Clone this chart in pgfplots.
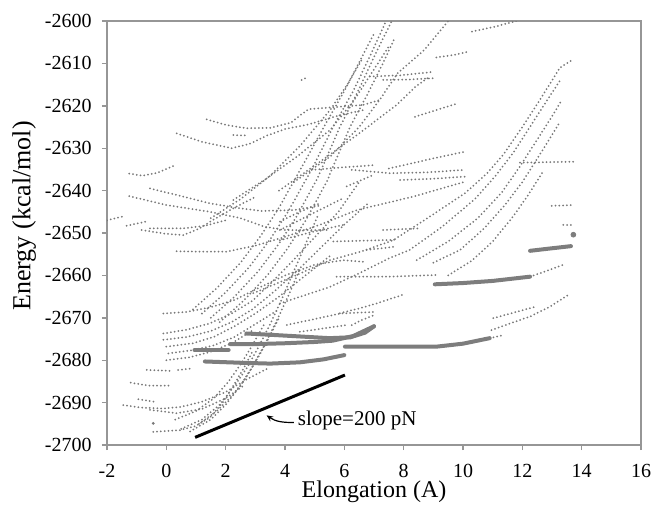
\documentclass[border=0pt]{standalone}
\usepackage{fontspec}
\setmainfont{Liberation Serif}
\usepackage{pgfplots}
\pgfplotsset{compat=1.18}
\usetikzlibrary{arrows.meta}
\definecolor{dotgray}{RGB}{120,120,120}
\definecolor{thickgray}{RGB}{125,125,125}
\definecolor{framegray}{RGB}{150,150,150}
\pgfplotsset{
  dots/.style={dotgray, line width=1.0pt, line cap=round, dash pattern=on 0pt off 1.9pt, mark=none},
  thk/.style={thickgray, line width=2.0pt, line cap=round, mark=none},
}
\begin{document}
\begin{tikzpicture}
\begin{axis}[
  width=267pt, height=212pt, scale only axis,
  xmin=-2, xmax=16, ymin=-2700, ymax=-2600,
  xtick={-2,0,2,4,6,8,10,12,14,16},
  xticklabels={-2,0,2,4,6,8,10,12,14,16},
  ytick={-2700,-2690,-2680,-2670,-2660,-2650,-2640,-2630,-2620,-2610,-2600},
  yticklabels={-2700,-2690,-2680,-2670,-2660,-2650,-2640,-2630,-2620,-2610,-2600},
  axis line style={framegray, line width=0.7pt},
  tick style={framegray, line width=0.7pt},
  tick align=outside, tick pos=left, major tick length=2.5pt,
  ticklabel style={font=\fontsize{10}{12}\selectfont, text=black},
  yticklabel style={xshift=-1.7pt},
  xticklabel style={yshift=-3.6pt},
  xlabel={Elongation (A)},
  ylabel={Energy (kcal/mol)},
  xlabel style={font=\fontsize{12}{14}\selectfont, at={(axis description cs:0.5,-0.111)}, anchor=center},
  ylabel style={font=\fontsize{13}{15}\selectfont, at={(axis description cs:-0.155,0.54)}, anchor=center, rotate=0},
  clip=true,
]
% ---------- dotted curves: upper left ----------
\addplot[dots] coordinates {(-2,-2647) (-1.4,-2646)};
\addplot[dots] coordinates {(-1.25,-2636) (-0.8,-2636.5) (-0.3,-2635.8) (0.3,-2634)};
\addplot[dots] coordinates {(-1.25,-2641.3) (0,-2643.4) (1.47,-2645) (2.5,-2646.5) (3.3,-2648.5) (4,-2649.3) (5.5,-2649.3)};
\addplot[dots] coordinates {(-0.55,-2639.5) (0.5,-2641.3) (1.47,-2643) (2.3,-2644) (3.2,-2644.8) (4.3,-2644.6) (5.2,-2643.5)};
\addplot[dots] coordinates {(-1.34,-2648.3) (-0.61,-2647.2)};
\addplot[dots] coordinates {(-0.83,-2649.3) (0,-2650.2) (0.57,-2650.5) (1.1,-2649) (1.58,-2646.9) (2.3,-2644) (3,-2641.5)};
\addplot[dots] coordinates {(-0.55,-2648.9) (0.57,-2648.9) (1.3,-2648.3) (2.0,-2647)};
\addplot[dots] coordinates {(0.35,-2654.3) (1.2,-2654.4) (2.03,-2654.4) (3,-2653) (4,-2650.9) (5.2,-2648) (6.42,-2644.6) (8.33,-2641.4) (10.07,-2637.9)};
\addplot[dots] coordinates {(1.36,-2623.2) (2.0,-2624.5) (2.7,-2625.3) (3.5,-2625.2) (4.2,-2624) (4.5,-2622.3) (4.8,-2620.8) (5.5,-2620.4) (6.64,-2619.8) (7.2,-2618.6)};
\addplot[dots] coordinates {(0.35,-2626.5) (1.2,-2628.5) (2.2,-2630) (2.8,-2629) (3.4,-2627) (4.0,-2625.5) (4.84,-2624.3) (5.7,-2622.5) (6.64,-2621)};
\addplot[dots] coordinates {(2.26,-2626.9) (2.71,-2627)};
\addplot[dots] coordinates {(4.56,-2613.9) (4.77,-2613.2)};
% ---------- steep bundle to the top ----------
\addplot[dots] coordinates {(0.9,-2668) (1.7,-2663) (2.5,-2657) (3.2,-2650.5) (3.8,-2644) (4.6,-2634) (5.35,-2624.5) (6.0,-2616.5) (6.63,-2608) (7.0,-2603)};
\addplot[dots] coordinates {(1.2,-2669) (2.0,-2664) (2.8,-2658) (3.5,-2651.5) (4.1,-2645) (4.9,-2635) (5.62,-2625) (6.3,-2616.5) (6.85,-2608.5) (7.31,-2601.5) (7.4,-2600)};
\addplot[dots] coordinates {(1.5,-2670) (2.3,-2665) (3.1,-2659) (3.8,-2652.5) (4.4,-2646) (5.1,-2637) (5.85,-2625) (6.5,-2616) (7.1,-2607) (7.6,-2600)};
\addplot[dots] coordinates {(1.8,-2671) (2.6,-2666) (3.4,-2660) (4.1,-2653.5) (4.7,-2647) (5.4,-2638) (6.19,-2625) (6.8,-2617) (7.3,-2610) (7.7,-2604)};
\addplot[dots] coordinates {(1.5,-2646.5) (2.5,-2642) (3.5,-2636.5) (4.5,-2629.5) (5.52,-2621) (6.1,-2615) (6.6,-2609)};
\addplot[dots] coordinates {(2.26,-2642.2) (3.3,-2637.5) (4.4,-2632) (5.52,-2625.7) (6.3,-2619) (6.9,-2612.5) (7.5,-2606)};
\addplot[dots] coordinates {(4.3,-2638) (5.52,-2632) (6.5,-2625) (7.2,-2618.5) (7.8,-2612.3) (8.7,-2606.8) (9.5,-2600)};
\addplot[dots] coordinates {(3.8,-2640) (5.18,-2633.2) (6.5,-2626.5) (7.76,-2619.8) (8.4,-2615.5) (8.9,-2613)};
% ---------- upper flat pieces ----------
\addplot[dots] coordinates {(6.86,-2613.1) (7.9,-2612.8) (9,-2612)};
\addplot[dots] coordinates {(7.31,-2613.9) (8.2,-2613.8) (9,-2613.5)};
\addplot[dots] coordinates {(9.1,-2608.6) (9.7,-2608) (10.2,-2607.2)};
\addplot[dots] coordinates {(10.3,-2602.5) (11.1,-2601.3) (11.9,-2599.8)};
\addplot[dots] coordinates {(8.38,-2622.6) (9.1,-2621) (9.84,-2619.4)};
% ---------- middle ----------
\addplot[dots] coordinates {(4.9,-2635.1) (6,-2634.5) (6.98,-2634)};
\addplot[dots] coordinates {(6.25,-2635.1) (7.54,-2635.9) (8.8,-2635.7) (10.07,-2635.1)};
\addplot[dots] coordinates {(7.5,-2634.8) (9,-2632.4) (10.07,-2630.8)};
\addplot[dots] coordinates {(7.88,-2637.5) (9,-2637.2) (10.07,-2636.7)};
\addplot[dots] coordinates {(6.08,-2639) (6.98,-2636.3)};
\addplot[dots] coordinates {(3.83,-2647.3) (4.5,-2645) (5.18,-2643)};
\addplot[dots] coordinates {(3.83,-2649.3) (4.9,-2645.5) (5.96,-2641.8)};
\addplot[dots] coordinates {(3.83,-2651.7) (4.9,-2649.8) (5.96,-2648.1)};
\addplot[dots] coordinates {(5.63,-2652) (6.7,-2651.8) (7.76,-2651.6)};
\addplot[dots] coordinates {(7.31,-2649.3) (8.55,-2648.9)};
\addplot[dots] coordinates {(6.75,-2654) (7.76,-2653.2)};
\addplot[dots] coordinates {(5.74,-2660.3) (7.5,-2660.3) (9.11,-2659.9)};
\addplot[dots] coordinates {(4.06,-2671.7) (5,-2670.3) (5.85,-2669) (7.03,-2668.6)};
\addplot[dots] coordinates {(5.85,-2668.9) (6.5,-2667.8) (7.09,-2666.6) (8,-2664.5)};
\addplot[dots] coordinates {(6.25,-2671.7) (6.6,-2670.5) (7.03,-2669.3)};
\addplot[dots] coordinates {(4.5,-2673.3) (5.3,-2672.5) (6.08,-2671.7)};
% ---------- right fan ----------
\addplot[dots] coordinates {(2.93,-2664.2) (4.2,-2660.5) (5.52,-2656.4) (6.6,-2654.3) (7.65,-2651.7) (8.8,-2646.5) (10.07,-2640.6) (10.8,-2636) (11.36,-2631.5) (12,-2625) (12.6,-2618.5) (13.27,-2611) (13.72,-2609)};
\addplot[dots] coordinates {(3.83,-2666.6) (4.7,-2664.6) (5.52,-2662.7) (6.5,-2659.5) (7.5,-2656) (8.2,-2654) (9.3,-2648.5) (10.4,-2642) (11.1,-2636.5) (11.7,-2631) (12.3,-2624.5) (12.9,-2618) (13.32,-2613.5)};
\addplot[dots] coordinates {(8.44,-2656.4) (9.5,-2652) (10.5,-2646.5) (11.3,-2640.5) (11.9,-2634.5) (12.5,-2628) (13,-2622.5) (13.3,-2619)};
\addplot[dots] coordinates {(9.0,-2657) (9.9,-2654) (10.7,-2649) (11.4,-2643.5) (12.0,-2638) (12.5,-2632.5) (12.9,-2628) (13.27,-2623.8)};
\addplot[dots] coordinates {(9.5,-2660) (10.3,-2656.5) (11,-2652) (11.7,-2646) (12.2,-2641) (12.7,-2635.5)};
\addplot[dots] coordinates {(11.92,-2633.4) (12.8,-2633.3) (13.72,-2633.2)};
\addplot[dots] coordinates {(12.99,-2643.6) (13.72,-2643.4)};
\addplot[dots] coordinates {(13.38,-2648.1) (13.72,-2648.1)};
\addplot[dots] coordinates {(10.9,-2674.8) (11.36,-2674.1)};
\addplot[dots] coordinates {(10.96,-2672.9) (11.6,-2671.3) (12.26,-2669.7) (12.9,-2667.5) (13.55,-2664.6)};
\addplot[dots] coordinates {(11.02,-2670.1) (11.7,-2668.8) (12.43,-2667.4)};
\addplot[dots] coordinates {(12.26,-2660.3) (12.8,-2659) (13.38,-2657.5)};
% ---------- lower left ----------
\addplot[dots] coordinates {(-1.45,-2690.6) (-0.8,-2691.2) (-0.1,-2691.4) (0.5,-2691) (1.2,-2689.8) (2,-2687.5) (2.71,-2684.5) (3.4,-2682)};
\addplot[dots] coordinates {(-1.2,-2685.3) (-0.6,-2686) (0.1,-2686)};
\addplot[dots] coordinates {(-0.94,-2689.2) (-0.4,-2689.8)};
\addplot[dots] coordinates {(-0.55,-2691.7) (0.35,-2692.5) (1.2,-2691.5) (2,-2689) (2.6,-2686)};
\addplot[dots] coordinates {(-0.66,-2682.3) (0.12,-2682.5)};
\addplot[dots] coordinates {(0.4,-2682.3) (0.8,-2682)};
\addplot[dots] coordinates {(-0.44,-2696.9) (0.46,-2696.5) (1,-2695.5) (1.47,-2693.5) (1.9,-2690) (2.26,-2686) (2.6,-2682) (2.9,-2678)};
\addplot[dotgray, only marks, mark=*, mark size=0.5pt] coordinates {(-0.44,-2694.9)};
\addplot[dots] coordinates {(0.5,-2696.2) (1.2,-2694) (1.8,-2690.5) (2.3,-2686) (2.7,-2682) (3.1,-2677) (3.5,-2671.5) (3.9,-2665.5) (4.3,-2659) (4.7,-2652.5) (5.1,-2646)};
\addplot[dots] coordinates {(0.8,-2696.8) (1.5,-2694) (2.0,-2690.5) (2.5,-2686) (2.9,-2681.5) (3.3,-2676.5) (3.7,-2671) (4.1,-2665) (4.5,-2658.5)};
\addplot[dots] coordinates {(1.1,-2695) (1.7,-2692) (2.2,-2688.5) (2.6,-2685) (3.0,-2680.5) (3.4,-2675.5) (3.8,-2670)};
\addplot[dots] coordinates {(0.3,-2694) (1,-2692) (1.6,-2689) (2.1,-2685) (2.5,-2681) (2.9,-2676.5) (3.3,-2671.5)};
\addplot[dots] coordinates {(-0.1,-2669) (0.7,-2668.6) (1.5,-2667.5) (2.3,-2665.8) (3.1,-2663) (4,-2660) (5,-2657.5) (5.96,-2656.4) (6.64,-2656.8)};
\addplot[dots] coordinates {(-0.1,-2673.7) (0.7,-2672.8) (1.47,-2671.3) (2.2,-2669) (2.9,-2666) (3.5,-2662) (4.2,-2657) (5,-2651) (5.8,-2645) (6.5,-2638)};
\addplot[dots] coordinates {(-0.1,-2675.2) (0.7,-2674.5) (1.47,-2673.2) (2.2,-2671) (2.9,-2668) (3.6,-2664) (4.4,-2659) (5.2,-2653.5) (6,-2648) (6.8,-2643)};
\addplot[dots] coordinates {(0,-2676.8) (0.9,-2676) (1.6,-2674.5) (2.3,-2672) (3,-2669) (3.8,-2665) (4.6,-2660.5) (5.5,-2655.5)};
\addplot[dots] coordinates {(0.07,-2678.4) (0.91,-2677.6) (1.6,-2676.5) (2.3,-2674.5) (3,-2671.5) (3.8,-2668)};
\addplot[dots] coordinates {(0,-2680) (0.8,-2679.3) (1.5,-2678) (2.2,-2676) (2.9,-2673)};
% ---------- thick (dense) segments ----------
\addplot[thk] coordinates {(1.3,-2680.3) (2.5,-2680.6) (3.5,-2680.8) (4.5,-2680.5) (5.3,-2679.8) (6,-2678.8)};
\addplot[thk] coordinates {(0.95,-2677.6) (2.1,-2677.6)};
\addplot[thk] coordinates {(2.15,-2676.2) (3,-2676.2) (4,-2676) (5,-2675.7) (5.6,-2675.4) (6.3,-2674.3) (7.0,-2672)};
\addplot[thk] coordinates {(2.7,-2673.7) (3.5,-2674) (4.5,-2674.4) (5.5,-2674.8) (6.2,-2674.6) (6.7,-2673.5) (7.0,-2672)};
\addplot[thk] coordinates {(6.02,-2676.8) (7.5,-2676.8) (9.11,-2676.8) (10,-2676.1) (10.9,-2674.8)};
\addplot[thk] coordinates {(9.05,-2662.1) (10,-2661.8) (11,-2661.3) (12.26,-2660.3)};
\addplot[thk] coordinates {(12.26,-2654.2) (13,-2653.6) (13.64,-2653.1)};
\addplot[thickgray, only marks, mark=*, mark size=1.2pt] coordinates {(13.72,-2650.4)};
% ---------- slope line ----------
\addplot[black, line width=1.5pt, mark=none] coordinates {(0.97,-2698.2) (6.02,-2683.5)};
\draw[-{Stealth[length=3.2pt,width=2.8pt]}, line width=0.6pt] (axis cs:4.3,-2694.7) to[out=180,in=-35] (axis cs:3.38,-2693.0);
\node[anchor=west, inner sep=0pt, font=\fontsize{10.5}{12}\selectfont] at (axis cs:4.42,-2694.3) {slope=200 pN};
\end{axis}
\pgfresetboundingbox
\path[use as bounding box] ([shift={(-53.5pt,-29.5pt)}]current axis.south west) rectangle ([shift={(10.5pt,10.5pt)}]current axis.north east);
\end{tikzpicture}
\end{document}
